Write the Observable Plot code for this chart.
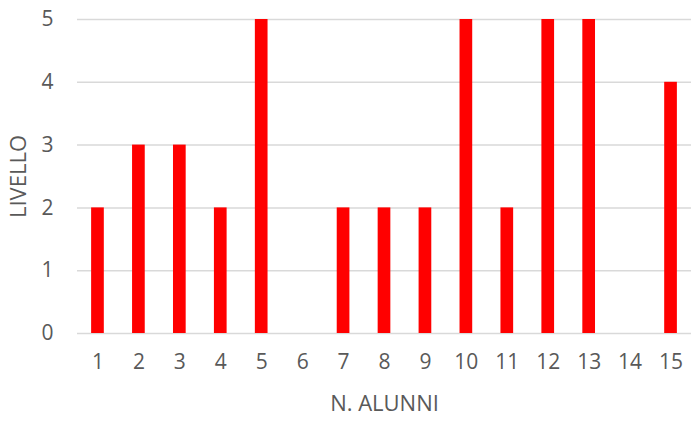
<!DOCTYPE html>
<html>
<head>
<meta charset="utf-8">
<script src="https://cdn.jsdelivr.net/npm/d3@7"></script>
<script src="https://cdn.jsdelivr.net/npm/@observablehq/plot@0.6"></script>
<style>
  html, body { margin: 0; padding: 0; background: #fff; }
  svg { display: block; }
</style>
</head>
<body>
<div id="chart"></div>
<script>
const alunni = ["1","2","3","4","5","6","7","8","9","10","11","12","13","14","15"];
const livello = [2, 3, 3, 2, 5, 0, 2, 2, 2, 5, 2, 5, 5, 0, 4];
const yTicks = [0, 1, 2, 3, 4, 5];
const xTitle = "N. ALUNNI";
const yTitle = "LIVELLO";

const data = alunni.map((a, i) => ({alunno: a, livello: livello[i]}));

const chart = Plot.plot({
  width: 691,
  height: 423,
  marginTop: 19,
  marginBottom: 90,
  marginLeft: 77,
  marginRight: 0,
  style: {fontFamily: "'Open Sans', sans-serif", color: "#595959", background: "#fff"},
  x: {domain: alunni, paddingInner: 0.69, paddingOuter: 0.345, round: false, label: null},
  y: {domain: [0, 5], label: null},
  marks: [
    Plot.gridY(yTicks, {stroke: "#d9d9d9", strokeOpacity: 1, strokeWidth: 1.5}),
    Plot.axisY(yTicks, {tickSize: 0, tickPadding: 24, tickFormat: "d", fontSize: 21, fill: "#595959", label: null}),
    Plot.axisX({tickSize: 0, tickPadding: 21, fontSize: 21, fill: "#595959", label: null}),
    Plot.barY(data, {x: "alunno", y: "livello", fill: "#ff0000"}),
    Plot.text([xTitle], {frameAnchor: "bottom", dy: 77, fontSize: 22, fill: "#595959", text: d => d}),
    Plot.text([yTitle], {frameAnchor: "left", dx: -59, rotate: -90, textAnchor: "middle", fontSize: 22, fill: "#595959", text: d => d})
  ]
});
document.getElementById("chart").appendChild(chart);
</script>
</body>
</html>
